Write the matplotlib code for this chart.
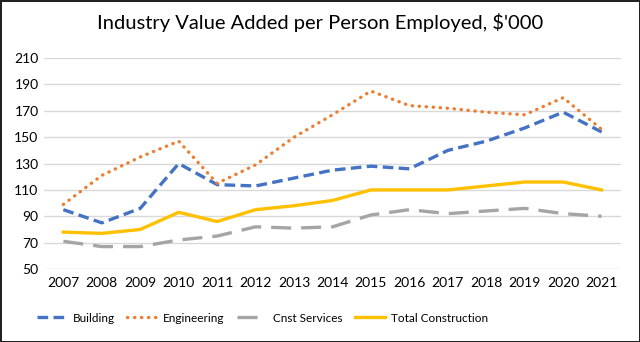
import matplotlib
matplotlib.use("Agg")
import matplotlib.pyplot as plt

years = ["2007", "2008", "2009", "2010", "2011", "2012", "2013", "2014",
         "2015", "2016", "2017", "2018", "2019", "2020", "2021"]
building = [95, 85, 96, 130, 114, 113, 119, 125, 128, 126, 140, 147, 157, 169, 154]
engineering = [99, 121, 135, 147, 115, 129, 150, 167, 185, 174, 172, 169, 167, 180, 156]
cnst_services = [71, 67, 67, 72, 75, 82, 81, 82, 91, 95, 92, 94, 96, 92, 90]
total_construction = [78, 77, 80, 93, 86, 95, 98, 102, 110, 110, 110, 113, 116, 116, 110]
yticks = [50, 70, 90, 110, 130, 150, 170, 190, 210]

plt.rcParams['font.family'] = ['Lato', 'DejaVu Sans']

fig = plt.figure(figsize=(6.4, 3.42), dpi=100)
fig.patch.set_edgecolor('#222222')
fig.patch.set_linewidth(2)
ax = fig.add_axes([0.069, 0.2135, 0.901, 0.6165])

x = list(range(len(years)))
lw = 2.4
ax.plot(x, building, color='#4472C4', lw=lw, dashes=(3.2, 1.6), label='Building')
ax.plot(x, engineering, color='#ED7D31', lw=lw, dashes=(0.1, 2.0),
        dash_capstyle='round', label='Engineering')
ax.plot(x, cnst_services, color='#A5A5A5', lw=lw, dashes=(6, 3), label='Cnst Services')
ax.plot(x, total_construction, color='#FFC000', lw=lw, label='Total Construction')

ax.set_xlim(-0.5, len(years) - 0.5)
ax.set_ylim(50, 210)
ax.set_yticks(yticks)
ax.set_xticks(x)
ax.set_xticklabels(years)
ax.grid(axis='y', color='#D9D9D9', lw=1)
ax.set_axisbelow(True)
for s in ax.spines.values():
    s.set_visible(False)
ax.tick_params(length=0, labelsize=10, colors='#000000', pad=6)
ax.tick_params(axis='y', pad=4)

fig.text(0.5, 0.935, "Industry Value Added per Person Employed, $'000",
         ha='center', va='center', fontsize=14.5)

fig.legend(loc='center', bbox_to_anchor=(0.41, 0.07), ncol=4, frameon=False,
           fontsize=8.5, handlelength=2.5, columnspacing=1.1, handletextpad=0.5)

fig.savefig('out.png', dpi=100, edgecolor=fig.get_edgecolor())
